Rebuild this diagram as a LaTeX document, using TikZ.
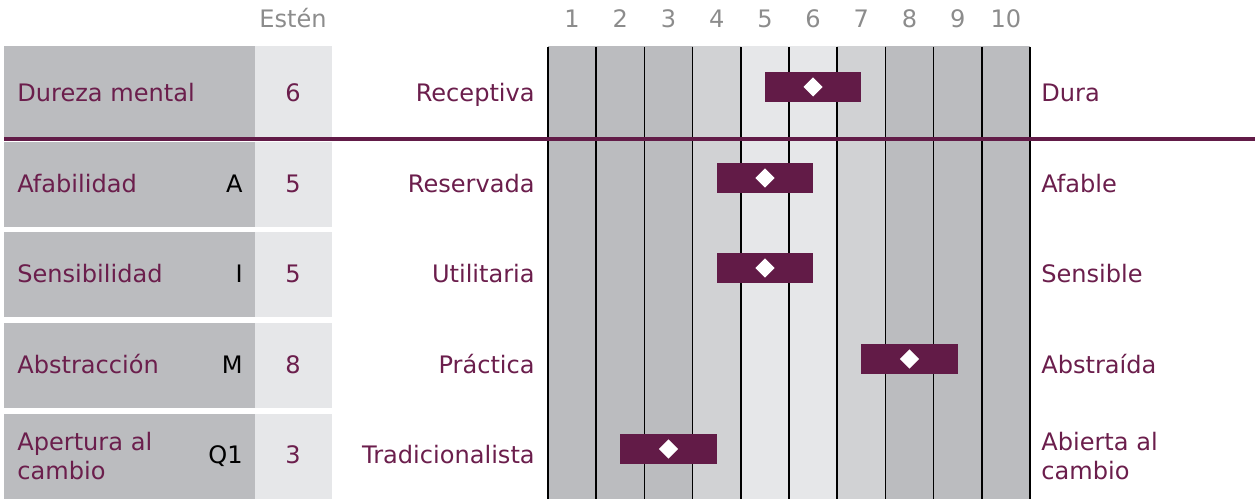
\documentclass[tikz,border=0pt]{standalone}
\usepackage{fontspec}
\setmainfont{DejaVu Sans}
\usetikzlibrary{shapes.geometric}

\definecolor{wine}{HTML}{621B47}
\definecolor{winetext}{HTML}{6B1E4C}
\definecolor{bandD}{HTML}{BBBCBF}
\definecolor{bandM}{HTML}{D1D2D4}
\definecolor{bandL}{HTML}{E6E7E9}
\definecolor{headgray}{HTML}{8C8C8C}

\tikzset{
  txt/.style={font=\fontsize{13.7}{16.5}\selectfont, inner sep=0pt},
  head/.style={txt, text=headgray, anchor=base},
  trait/.style={txt, text=winetext, anchor=base west},
  letter/.style={txt, text=black, anchor=base east},
  sten/.style={txt, text=winetext, anchor=base},
  lowpole/.style={txt, text=winetext, anchor=base east},
  highpole/.style={txt, text=winetext, anchor=base west},
  sep/.style={black, line width=0.85pt},
  divider/.style={wine, line width=2.8pt},
  diam/.style={diamond, fill=white, inner sep=0pt, minimum width=0.39cm, minimum height=0.39cm}
}

\begin{document}
\begin{tikzpicture}[x=0.02cm,y=-0.02cm]
  \useasboundingbox (0,0) rectangle (1255,499);

  % Scale columns
  \foreach \c [count=\i] in {bandD,bandD,bandD,bandM,bandL,bandL,bandM,bandD,bandD,bandD} {
    \fill[\c] ({548+48.2*(\i-1)},46) rectangle ({548+48.2*\i},499);
    \node[head] (col\i) at ({548+48.2*(\i-0.5)},28) {\i};
  }
  \foreach \i in {0,...,10}
    \draw[sep] ({548+48.2*\i},47) -- ({548+48.2*\i},499);
  \node[head] (esten) at (293,28) {Estén};

  % Rows
  \foreach \trait/\letter/\sc/\lo/\hi/\ya/\yb/\bl [count=\r] in {
      Dureza mental//6/Receptiva/Dura/46/137/102,
      Afabilidad/A/5/Reservada/Afable/142/227/193,
      Sensibilidad/I/5/Utilitaria/Sensible/232/317/283,
      Abstracción/M/8/Práctica/Abstraída/323/408/374} {
    \fill[bandD] (4,\ya) rectangle (255,\yb);
    \fill[bandL] (255,\ya) rectangle (332,\yb);
    \node[trait] (trait\r) at (17,\bl) {\trait};
    \node[letter] (letter\r) at (243,\bl) {\letter};
    \node[sten] (sten\r) at (293,\bl) {\sc};
    \node[lowpole] (low\r) at (535,\bl) {\lo};
    \node[highpole] (high\r) at (1041,\bl) {\hi};
    \fill[wine] ({548+48.2*(\sc-1.5)},{\bl-30}) rectangle ({548+48.2*(\sc+0.5)},\bl);
    \node[diam] (score\r) at ({548+48.2*(\sc-0.5)},{\bl-15}) {};
  }

  % Last row
  \fill[bandD] (4,414) rectangle (255,499);
  \fill[bandL] (255,414) rectangle (332,499);
  \node[trait, anchor=west, align=left] (trait5) at (17,456) {Apertura al\\cambio};
  \node[letter] (letter5) at (243,464) {Q1};
  \node[sten] (sten5) at (293,464) {3};
  \node[lowpole] (low5) at (535,464) {Tradicionalista};
  \node[highpole, anchor=west, align=left] (high5) at (1041,456) {Abierta al\\cambio};
  \fill[wine] ({548+48.2*1.5},434) rectangle ({548+48.2*3.5},464);
  \node[diam] (score5) at ({548+48.2*2.5},449) {};

  \draw[divider] (4,139) -- (1255,139);
\end{tikzpicture}
\end{document}
